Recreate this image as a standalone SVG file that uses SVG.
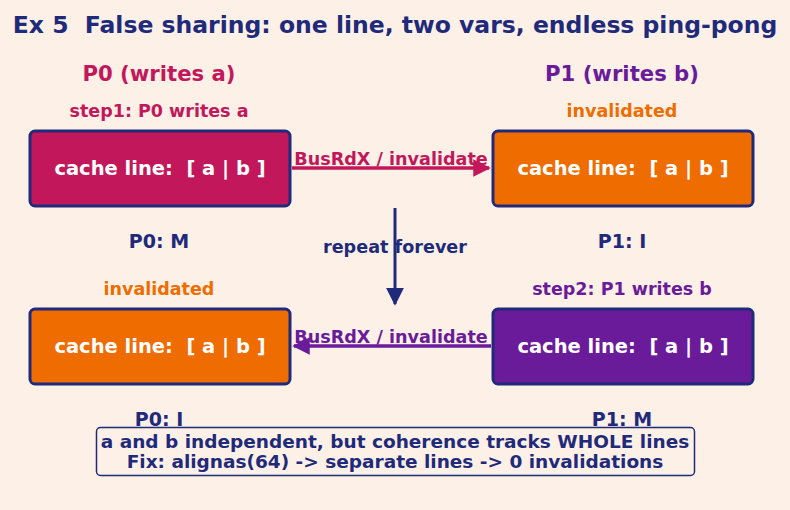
<svg xmlns="http://www.w3.org/2000/svg" width="790" height="510" viewBox="0 0 790 510">
<defs>
<style>
text{font-family:"DejaVu Sans","Liberation Sans",sans-serif;font-weight:bold;text-anchor:middle;dominant-baseline:central;white-space:pre}
.box{stroke:#1f2a7a;stroke-width:3}
.bt{fill:#fff;font-size:19.500px}
.navy{fill:#1f2a7a}
.crim{fill:#c2185b}
.purp{fill:#6a1b9a}
.oran{fill:#ef6c00}
</style>
<marker id="mc" viewBox="0 0 10 10" refX="9" refY="5" markerWidth="5" markerHeight="5" orient="auto"><path d="M0,0 L10,5 L0,10 z" fill="#c2185b"/></marker>
<marker id="mp" viewBox="0 0 10 10" refX="9" refY="5" markerWidth="5" markerHeight="5" orient="auto"><path d="M0,0 L10,5 L0,10 z" fill="#6a1b9a"/></marker>
<marker id="mn" viewBox="0 0 10 10" refX="9" refY="5" markerWidth="6" markerHeight="6" orient="auto"><path d="M0,0 L10,5 L0,10 z" fill="#1f2a7a"/></marker>
</defs>
<rect width="790" height="510" fill="#fdf1e7"/>
<text class="navy" x="395" y="25" font-size="23.500">Ex 5  False sharing: one line, two vars, endless ping-pong</text>
<text class="crim" x="159" y="73" font-size="21.200">P0 (writes a)</text>
<text class="purp" x="622" y="73" font-size="21.200">P1 (writes b)</text>
<text class="crim" x="159" y="111" font-size="17.500">step1: P0 writes a</text>
<text class="oran" x="622" y="111" font-size="17.500">invalidated</text>
<text class="navy" x="159" y="241" font-size="19">P0: M</text>
<text class="navy" x="622" y="241" font-size="19">P1: I</text>
<text class="oran" x="159" y="289" font-size="17.500">invalidated</text>
<text class="purp" x="622" y="289" font-size="17.500">step2: P1 writes b</text>
<text class="navy" x="159" y="419" font-size="19">P0: I</text>
<text class="navy" x="622" y="419" font-size="19">P1: M</text>
<g id="p0top"><rect class="box" x="30" y="131" width="260" height="75" rx="5" fill="#c2185b"/><text class="bt" x="160" y="168">cache line:  [ a | b ]</text></g>
<g id="p1top"><rect class="box" x="493" y="131" width="260" height="75" rx="5" fill="#ef6c00"/><text class="bt" x="623" y="168">cache line:  [ a | b ]</text></g>
<g id="p0bot"><rect class="box" x="30" y="309" width="260" height="75" rx="5" fill="#ef6c00"/><text class="bt" x="160" y="346">cache line:  [ a | b ]</text></g>
<g id="p1bot"><rect class="box" x="493" y="309" width="260" height="75" rx="5" fill="#6a1b9a"/><text class="bt" x="623" y="346">cache line:  [ a | b ]</text></g>
<g id="connectors">
<line x1="292" y1="168" x2="489" y2="168" stroke="#c2185b" stroke-width="3.5" marker-end="url(#mc)"/>
<text class="crim" x="391" y="159" font-size="17.600">BusRdX / invalidate</text>
<line x1="491" y1="346" x2="294" y2="346" stroke="#6a1b9a" stroke-width="3.5" marker-end="url(#mp)"/>
<text class="purp" x="391" y="337" font-size="17.600">BusRdX / invalidate</text>
<line x1="395" y1="208" x2="395" y2="304" stroke="#1f2a7a" stroke-width="3" marker-end="url(#mn)"/>
<text class="navy" x="395" y="247" font-size="17.600">repeat forever</text>
</g>
<g id="note">
<rect x="96.500" y="427.500" width="598" height="48" rx="4" fill="#fdf1e7" stroke="#1f2a7a" stroke-width="1.5"/>
<text class="navy" x="395" y="441" font-size="18.500">a and b independent, but coherence tracks WHOLE lines</text>
<text class="navy" x="395" y="461" font-size="18.500">Fix: alignas(64) -&gt; separate lines -&gt; 0 invalidations</text>
</g>
</svg>
